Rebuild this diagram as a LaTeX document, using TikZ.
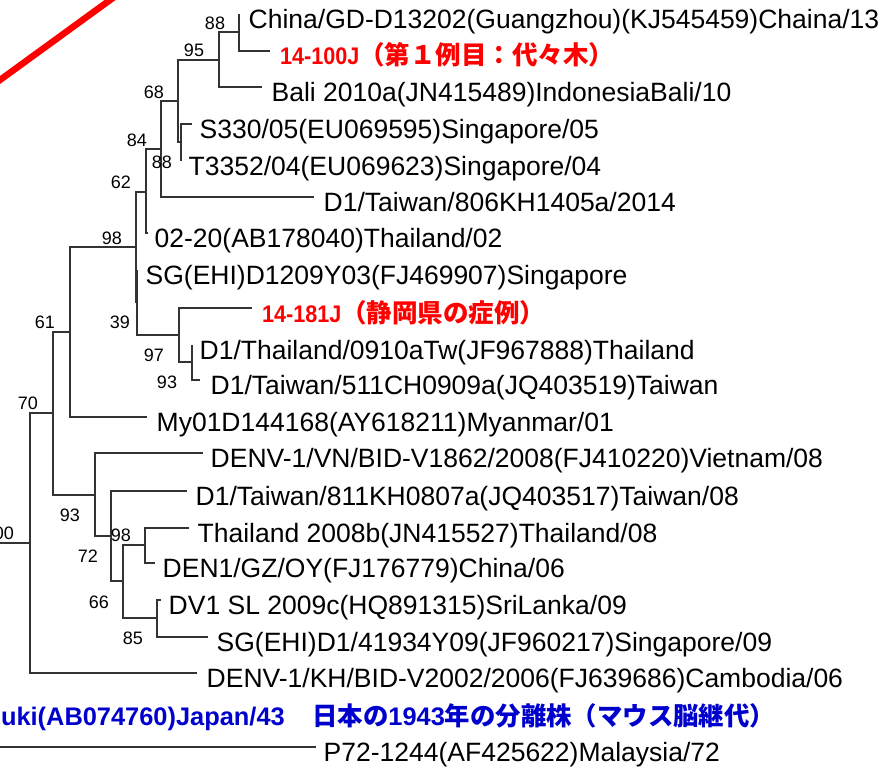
\documentclass[tikz,border=0pt]{standalone}
\usepackage{fontspec}
\usepackage{graphicx}
\setmainfont{Liberation Sans}
\newfontfamily\cjk{Noto Sans CJK JP}
\definecolor{lblred}{RGB}{255,0,0}
\definecolor{lblblue}{RGB}{0,0,205}
\newcommand\jpbig[1]{{\cjk\bfseries\fontsize{25.5}{28}\selectfont #1}}
\newcommand\jpblue[1]{{\cjk\bfseries\fontsize{25.4}{28}\selectfont #1}}
\newcommand\redid[1]{\scalebox{0.9}[1]{\bfseries\fontsize{24}{26}\selectfont #1}}
\begin{document}
\begin{tikzpicture}[x=1pt,y=-1pt,
  br/.style={draw=black!80, line width=1.1pt},
  lf/.style={anchor=base west, inner sep=0pt, font=\fontsize{26.5}{30}\selectfont},
  rl/.style={anchor=base west, inner sep=0pt, text=lblred},
  bl/.style={inner sep=0pt, text=lblblue, font=\bfseries\fontsize{25.4}{28}\selectfont},
  bs/.style={inner sep=0pt, font=\fontsize{18}{20}\selectfont}]
\useasboundingbox (0,0) rectangle (885,772);
\clip (0,0) rectangle (885,772);
% red slash
\coordinate (rs1) at (-20,94.5);
\coordinate (rs2) at (130,-14.5);
\draw[lblred, line width=6.5pt] (rs1) -- (rs2);
% internal nodes
\coordinate (nA) at (239,32);
\coordinate (nB) at (219,60);
\coordinate (nC) at (181,142);
\coordinate (nD) at (178,101);
\coordinate (nE) at (161,149);
\coordinate (nF) at (146,192);
\coordinate (nG) at (192,362);
\coordinate (nH) at (179,335);
\coordinate (nI) at (137,302);
\coordinate (nJ) at (136,247);
\coordinate (nK) at (70,332);
\coordinate (nL) at (145,545);
\coordinate (nM) at (157,618);
\coordinate (nN) at (123,581);
\coordinate (nO) at (111,536);
\coordinate (nP) at (95,495);
\coordinate (nQ) at (53,413);
\coordinate (nR) at (30,543);
\coordinate (r0) at (-5,543);
% leaf tips
\coordinate (t1) at (239,14);
\coordinate (t2) at (270,51);
\coordinate (t3) at (262,87);
\coordinate (t4) at (192,124);
\coordinate (t5) at (181,161);
\coordinate (t6) at (314,197);
\coordinate (t7) at (148,233);
\coordinate (t8) at (137,270);
\coordinate (t9) at (252,308);
\coordinate (t10) at (192,345);
\coordinate (t11) at (200,380);
\coordinate (t12) at (147,417);
\coordinate (t13) at (203,453);
\coordinate (t14) at (187,491);
\coordinate (t15) at (189,528);
\coordinate (t16) at (155,563);
\coordinate (t17) at (161,600);
\coordinate (t18) at (208,637);
\coordinate (t19) at (197,673);
\coordinate (s21) at (-5,747);
\coordinate (t21) at (316,747);
% branches
\foreach \p/\c in {nA/t1,nA/t2,nB/nA,nB/t3,nC/t4,nC/t5,nD/nB,nD/nC,nE/nD,nE/t6,
  nF/nE,nF/t7,nG/t10,nG/t11,nH/t9,nH/nG,nI/t8,nI/nH,nJ/nF,nJ/nI,nK/nJ,nK/t12,
  nL/t15,nL/t16,nM/t17,nM/t18,nN/nL,nN/nM,nO/t14,nO/nN,nP/t13,nP/nO,
  nQ/nK,nQ/nP,nR/nQ,nR/t19}
  \draw[br] (\p) |- (\c);
\draw[br] (r0) -- (nR);
\draw[br] (s21) -- (t21);
% leaf labels
\node[lf] (L1) at (248.5,28.5) {China/GD-D13202(Guangzhou)(KJ545459)Chaina/13};
\node[rl] (L2) at (280,64) {\redid{14-100J}\jpbig{（第１例目：代々木）}};
\node[lf] (L3) at (271.5,101.5) {Bali 2010a(JN415489)IndonesiaBali/10};
\node[lf] (L4) at (199.5,138.5) {S330/05(EU069595)Singapore/05};
\node[lf] (L5) at (188.5,175.5) {T3352/04(EU069623)Singapore/04};
\node[lf] (L6) at (323.5,211.5) {D1/Taiwan/806KH1405a/2014};
\node[lf] (L7) at (154.5,247.5) {02-20(AB178040)Thailand/02};
\node[lf] (L8) at (145.5,284.5) {SG(EHI)D1209Y03(FJ469907)Singapore};
\node[rl] (L9) at (262,322) {\redid{14-181J}\jpbig{（静岡県の症例）}};
\node[lf] (L10) at (199.5,359.5) {D1/Thailand/0910aTw(JF967888)Thailand};
\node[lf] (L11) at (210.5,394.5) {D1/Taiwan/511CH0909a(JQ403519)Taiwan};
\node[lf] (L12) at (156.5,431.5) {My01D144168(AY618211)Myanmar/01};
\node[lf] (L13) at (210.5,467.5) {DENV-1/VN/BID-V1862/2008(FJ410220)Vietnam/08};
\node[lf] (L14) at (195.5,505.5) {D1/Taiwan/811KH0807a(JQ403517)Taiwan/08};
\node[lf] (L15) at (197.5,542.5) {Thailand 2008b(JN415527)Thailand/08};
\node[lf] (L16) at (162.5,577.5) {DEN1/GZ/OY(FJ176779)China/06};
\node[lf] (L17) at (168.5,614.5) {DV1 SL 2009c(HQ891315)SriLanka/09};
\node[lf] (L18) at (216.5,651.5) {SG(EHI)D1/41934Y09(JF960217)Singapore/09};
\node[lf] (L19) at (206.5,687.5) {DENV-1/KH/BID-V2002/2006(FJ639686)Cambodia/06};
\node[bl, anchor=base east] (L20a) at (285,725) {Mochizuki(AB074760)Japan/43};
\node[bl, anchor=base west] (L20b) at (312,725) {\jpblue{日本の}1943\jpblue{年の分離株（マウス脳継代）}};
\node[lf] (L21) at (323.5,761.5) {P72-1244(AF425622)Malaysia/72};
% bootstrap values
\node[bs] (b1) at (215,23) {88};
\node[bs] (b2) at (194,50) {95};
\node[bs] (b3) at (154,92) {68};
\node[bs] (b4) at (162,162) {88};
\node[bs] (b5) at (137,140) {84};
\node[bs] (b6) at (121,182) {62};
\node[bs] (b7) at (112,238) {98};
\node[bs] (b8) at (45,322) {61};
\node[bs] (b9) at (120,322) {39};
\node[bs] (b10) at (154,355) {97};
\node[bs] (b11) at (167,382) {93};
\node[bs] (b12) at (28,403) {70};
\node[bs] (b13) at (70,515) {93};
\node[bs] (b14) at (121,535) {98};
\node[bs] (b15) at (88,556) {72};
\node[bs] (b16) at (99,602) {66};
\node[bs] (b17) at (133,638) {85};
\node[bs, anchor=east] (b18) at (14,533) {100};
\end{tikzpicture}
\end{document}
